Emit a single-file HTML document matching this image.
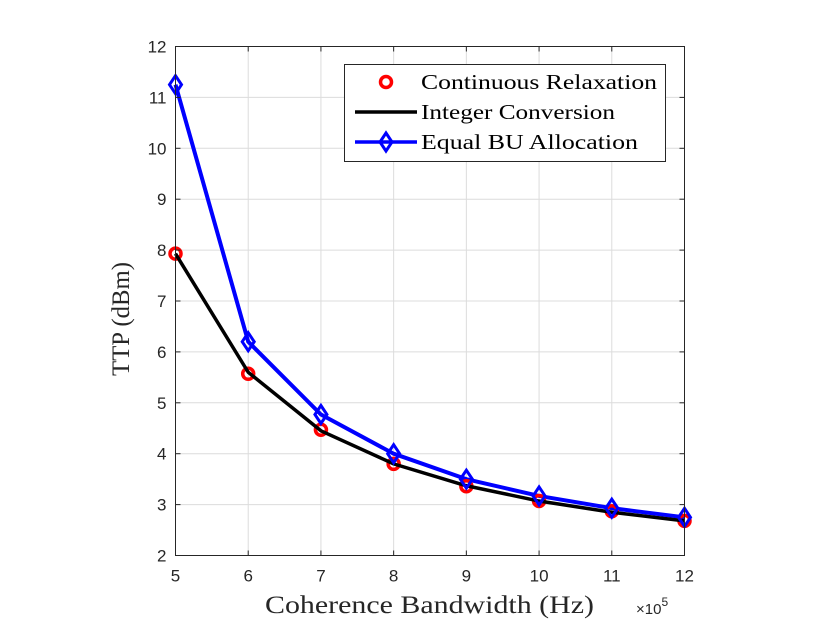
<!DOCTYPE html>
<html><head><meta charset="utf-8"><style>
body{margin:0;background:#fff;}
svg{display:block;font-family:"Liberation Sans",sans-serif;}
.serif{font-family:"Liberation Serif",serif;}
</style></head><body>
<svg width="830" height="627" viewBox="0 0 830 627">
<rect x="0" y="0" width="830" height="627" fill="#fff"/>
<g id="grid"></g>
<g id="series"></g>
<rect x="175.5" y="46.5" width="509" height="509" fill="none" stroke="#262626" stroke-width="1"/>
<g id="ticks"></g>
<text class="serif" x="265" y="613" textLength="329" lengthAdjust="spacingAndGlyphs" font-size="25" fill="#262626">Coherence Bandwidth (Hz)</text>
<text x="636" y="614" font-size="15" fill="#262626">×10<tspan dy="-8" font-size="12">5</tspan></text>
<text class="serif" transform="translate(129,319) rotate(-90)" x="-57" y="0" textLength="114" lengthAdjust="spacingAndGlyphs" font-size="25" fill="#262626">TTP (dBm)</text>
<g>
<rect x="344.5" y="64.5" width="321" height="97" fill="#fff" stroke="#262626" stroke-width="1"/>
<g>
<circle cx="386" cy="82" r="5.5" fill="none" stroke="#ff0000" stroke-width="3.5"/>
<text class="serif" x="421" y="89" textLength="236" lengthAdjust="spacingAndGlyphs" font-size="21" fill="#000">Continuous Relaxation</text></g>
<g>
<line x1="355" y1="112" x2="417" y2="112" stroke="#000" stroke-width="3.5"/>
<text class="serif" x="421" y="119" textLength="194" lengthAdjust="spacingAndGlyphs" font-size="21" fill="#000">Integer Conversion</text></g>
<g>
<line x1="355" y1="142" x2="417" y2="142" stroke="#0000ff" stroke-width="3.5"/>
<path d="M386,133 L392,142 L386,151 L380,142 Z" fill="none" stroke="#0000ff" stroke-width="3"/>
<text class="serif" x="421" y="149" textLength="217" lengthAdjust="spacingAndGlyphs" font-size="21" fill="#000">Equal BU Allocation</text></g>
</g>
</svg>
<script>
const xValues=[5,6,7,8,9,10,11,12];
const continuous=[7.93,5.57,4.47,3.80,3.36,3.07,2.87,2.68];
const integer=[7.93,5.60,4.45,3.80,3.37,3.07,2.85,2.68];
const equalBU=[11.25,6.20,4.77,4.00,3.50,3.17,2.93,2.75];
const xTicks=[5,6,7,8,9,10,11,12];
const yTicks=[2,3,4,5,6,7,8,9,10,11,12];
const NS="http://www.w3.org/2000/svg";
const X0=175.5,X1=684.5,Y0=555.5,Y1=46.5;
const sx=v=>X0+(v-5)/(12-5)*(X1-X0);
const sy=v=>Y0-(v-2)/(12-2)*(Y0-Y1);
function mk(tag,attrs,parent){const e=document.createElementNS(NS,tag);for(const k in attrs)e.setAttribute(k,attrs[k]);parent.appendChild(e);return e;}
const grid=document.getElementById('grid'),ticks=document.getElementById('ticks'),series=document.getElementById('series');
xTicks.forEach(t=>{
 const x=sx(t);
 const g=mk('line',{x1:x,x2:x,y1:Y1,y2:Y0,stroke:'#dcdcdc','stroke-width':1},grid);
 
 
 mk('line',{x1:x,x2:x,y1:Y0,y2:Y0-5,stroke:'#262626'},ticks);
 mk('line',{x1:x,x2:x,y1:Y1,y2:Y1+5,stroke:'#262626'},ticks);
 const tx=mk('text',{x:x,y:Y0+26,'text-anchor':'middle','font-size':17,fill:'#262626'},ticks);
 tx.textContent=t;
 
 
});
yTicks.forEach(t=>{
 const y=sy(t);
 const g=mk('line',{x1:X0,x2:X1,y1:y,y2:y,stroke:'#dcdcdc','stroke-width':1},grid);
 
 
 mk('line',{x1:X0,x2:X0+5,y1:y,y2:y,stroke:'#262626'},ticks);
 mk('line',{x1:X1,x2:X1-5,y1:y,y2:y,stroke:'#262626'},ticks);
 const tx=mk('text',{x:X0-9,y:y+6,'text-anchor':'end','font-size':17,fill:'#262626'},ticks);
 tx.textContent=t;
 
 
});
const pts=a=>a.map((v,i)=>sx(xValues[i])+','+sy(v)).join(' ');
const lb=mk('polyline',{points:pts(equalBU),fill:'none',stroke:'#0000ff','stroke-width':4,'stroke-linejoin':'round'},series);


continuous.forEach((v,i)=>{
 const c=mk('circle',{cx:sx(xValues[i]),cy:sy(v),r:5.5,fill:'none',stroke:'#ff0000','stroke-width':3.5},series);
 
 
});
const li=mk('polyline',{points:pts(integer),fill:'none',stroke:'#000','stroke-width':3.5,'stroke-linejoin':'round'},series);


equalBU.forEach((v,i)=>{
 const x=sx(xValues[i]),y=sy(v);
 const d=mk('path',{d:`M${x},${y-9} L${x+6},${y} L${x},${y+9} L${x-6},${y} Z`,fill:'none',stroke:'#0000ff','stroke-width':3},series);
 
 
});
</script>
</body></html>
